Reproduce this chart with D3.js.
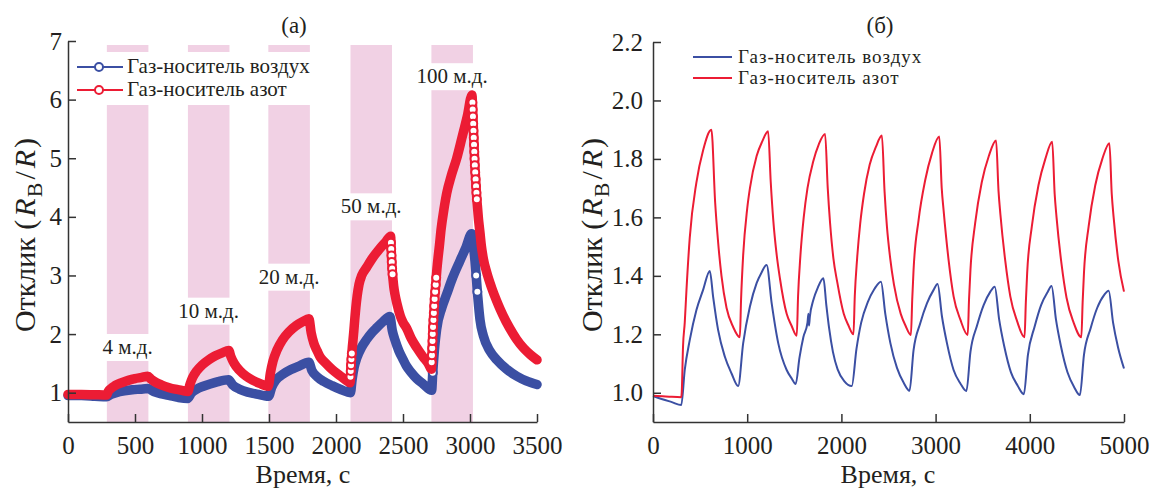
<!DOCTYPE html>
<html>

<head>
    <meta charset="utf-8">
    <style>
        body {
            margin: 0;
            background: #fff;
        }

        svg {
            font-family: 'Liberation Serif', 'DejaVu Serif', serif;
        }

        .axis .domain,
        .axis .tick line {
            stroke: #333;
            stroke-width: 1.5px;
        }

        .axis .tick text {
            font-family: 'Liberation Serif', serif;
            font-size: 25px;
            fill: #231f20;
        }
    </style>
</head>

<body>
    <svg width="1153" height="491"></svg>

    <script src="https://d3js.org/d3.v7.min.js"></script>
    <script>

        // panel (а): gas pulses, start / end in seconds
        let pulseLabels = ["4 м.д.", "10 м.д.", "20 м.д.", "50 м.д.", "100 м.д."];
        let pulseOn = [290, 895, 1495, 2108, 2712];
        let pulseOff = [600, 1205, 1805, 2418, 3022];

        let xTicksA = [0, 500, 1000, 1500, 2000, 2500, 3000, 3500];
        let yTicksA = [1, 2, 3, 4, 5, 6, 7];
        let xTicksB = [0, 1000, 2000, 3000, 4000, 5000];
        let yTicksB = [1.0, 1.2, 1.4, 1.6, 1.8, 2.0, 2.2];

        let seriesNames = ["Газ-носитель воздух", "Газ-носитель азот"];

        // [time, response]
        let airA = [[0, 0.95], [100, 0.95], [200, 0.94], [288, 0.93],
        [320, 0.97], [360, 1.00], [420, 1.03], [480, 1.05], [540, 1.06], [595, 1.07],
        [640, 1.02], [700, 0.98], [760, 0.95], [820, 0.92], [893, 0.90],
        [920, 0.99], [960, 1.06], [1010, 1.11], [1060, 1.15], [1120, 1.19], [1198, 1.22],
        [1230, 1.13], [1280, 1.06], [1340, 1.01], [1400, 0.98], [1460, 0.95], [1497, 0.94],
        [1520, 1.09], [1550, 1.21], [1600, 1.31], [1660, 1.39], [1720, 1.45], [1797, 1.52],
        [1820, 1.38], [1860, 1.27], [1910, 1.19], [1970, 1.12], [2040, 1.05], [2108, 1.00],
        [2120, 1.22], [2135, 1.43], [2155, 1.59], [2190, 1.77], [2229, 1.91], [2270, 2.03], [2304, 2.11], [2350, 2.21], [2402, 2.30],
        [2420, 2.06], [2440, 1.90], [2470, 1.71], [2500, 1.57], [2527, 1.45], [2560, 1.35], [2602, 1.24], [2650, 1.15], [2714, 1.04],
        [2722, 1.34], [2735, 1.74], [2751, 2.08], [2790, 2.45], [2826, 2.68], [2870, 2.96], [2925, 3.25], [2970, 3.48], [3012, 3.71],
        [3020, 3.62], [3028, 3.46], [3037, 3.25], [3046, 3.00], [3055, 2.72], [3065, 2.46], [3075, 2.24], [3100, 1.97],
        [3149, 1.71], [3200, 1.56], [3274, 1.40], [3350, 1.28], [3420, 1.20], [3500, 1.14]];

        let nitrogenA = [[0, 0.97], [100, 0.97], [200, 0.965], [288, 0.96],
        [300, 1.02], [320, 1.07], [350, 1.12], [400, 1.17], [450, 1.21], [500, 1.24], [550, 1.26], [595, 1.28],
        [620, 1.23], [660, 1.17], [700, 1.13], [750, 1.09], [800, 1.06], [850, 1.04], [895, 1.02],
        [910, 1.14], [930, 1.26], [960, 1.37], [1000, 1.47], [1050, 1.56], [1100, 1.63], [1150, 1.68], [1200, 1.72],
        [1215, 1.62], [1240, 1.50], [1280, 1.38], [1330, 1.28], [1380, 1.21], [1430, 1.16], [1495, 1.11],
        [1510, 1.33], [1530, 1.54], [1560, 1.73], [1600, 1.90], [1650, 2.04], [1700, 2.14], [1750, 2.21], [1798, 2.26],
        [1815, 2.02], [1835, 1.84], [1860, 1.71], [1881, 1.61], [1920, 1.51], [1955, 1.43], [1990, 1.36], [2030, 1.29], [2070, 1.22], [2105, 1.17],
        [2108, 1.27], [2110, 1.37], [2112, 1.47], [2115, 1.57], [2118, 1.67], [2122, 1.78], [2127, 1.90], [2133, 2.05],
        [2140, 2.25], [2148, 2.45], [2158, 2.65], [2172, 2.85], [2192, 3.00], [2229, 3.14], [2270, 3.29], [2320, 3.44], [2370, 3.57], [2408, 3.67],
        [2410, 3.56], [2412, 3.45], [2414, 3.34], [2416, 3.23], [2419, 3.12], [2422, 3.02], [2426, 2.92], [2431, 2.81],
        [2440, 2.68], [2455, 2.52], [2480, 2.31], [2500, 2.20], [2527, 2.10], [2560, 1.93], [2602, 1.77], [2650, 1.61], [2690, 1.49], [2712, 1.40],
        [2714, 1.52], [2716, 1.64], [2718, 1.76], [2720, 1.88], [2722, 2.00], [2724, 2.12], [2727, 2.24], [2730, 2.36], [2733, 2.48],
        [2736, 2.60], [2740, 2.72], [2744, 2.84], [2748, 2.96], [2752, 3.08], [2757, 3.20], [2763, 3.33], [2770, 3.47],
        [2785, 3.80], [2805, 4.12], [2826, 4.40], [2860, 4.70], [2900, 4.99], [2940, 5.35], [2980, 5.72], [3015, 6.08],
        [3018, 5.95], [3020, 5.83], [3022, 5.71], [3024, 5.59], [3026, 5.47], [3028, 5.35], [3030, 5.23], [3032, 5.11],
        [3034, 4.99], [3036, 4.88], [3039, 4.76], [3042, 4.64], [3045, 4.52], [3048, 4.41], [3051, 4.30], [3055, 4.19],
        [3059, 4.08], [3063, 3.97], [3068, 3.86], [3074, 3.74],
        [3085, 3.50], [3100, 3.28], [3124, 3.06], [3160, 2.80], [3200, 2.56], [3224, 2.43], [3270, 2.21], [3320, 2.01],
        [3348, 1.91], [3400, 1.76], [3450, 1.65], [3500, 1.56]];

        // panel (б): 50 ppm repeated pulses
        let airB = [[0, 0.989], [100, 0.978], [200, 0.968], [300, 0.958],
        [337, 1.078], [390, 1.18], [461, 1.283], [532, 1.352], [603, 1.417],
        [638, 1.329], [691, 1.215], [763, 1.123], [834, 1.066], [904, 1.023],
        [957, 1.169], [1029, 1.295], [1100, 1.375], [1150, 1.41], [1206, 1.437],
        [1260, 1.306], [1330, 1.169], [1419, 1.078], [1470, 1.05], [1515, 1.03],
        [1555, 1.12], [1596, 1.19], [1640, 1.24], [1650, 1.27], [1656, 1.23], [1665, 1.26], [1702, 1.317], [1750, 1.36], [1809, 1.392],
        [1840, 1.30], [1870, 1.22], [1910, 1.14], [1960, 1.08], [2030, 1.04], [2110, 1.023],
        [2160, 1.15], [2210, 1.24], [2280, 1.31], [2350, 1.355], [2420, 1.38],
        [2466, 1.27], [2520, 1.17], [2590, 1.085], [2660, 1.035], [2723, 1.007],
        [2766, 1.146], [2837, 1.238], [2908, 1.306], [2979, 1.352], [3021, 1.372],
        [3068, 1.26], [3121, 1.169], [3191, 1.078], [3263, 1.032], [3327, 1.006],
        [3370, 1.14], [3440, 1.23], [3510, 1.30], [3580, 1.345], [3628, 1.363],
        [3675, 1.25], [3728, 1.16], [3800, 1.07], [3870, 1.025], [3937, 0.995],
        [3980, 1.13], [4050, 1.225], [4120, 1.30], [4190, 1.345], [4231, 1.365],
        [4278, 1.25], [4330, 1.16], [4400, 1.07], [4470, 1.02], [4532, 0.992],
        [4575, 1.13], [4645, 1.22], [4715, 1.29], [4790, 1.335], [4837, 1.349],
        [4884, 1.24], [4937, 1.155], [5000, 1.083]];

        let nitrogenB = [[0, 0.99], [100, 0.988], [200, 0.986], [300, 0.985],
        [305, 1.0], [319, 1.16], [337, 1.24], [355, 1.35], [390, 1.53], [461, 1.72], [532, 1.83], [620, 1.90],
        [660, 1.65], [690, 1.52], [727, 1.40], [781, 1.29], [851, 1.225], [922, 1.19],
        [935, 1.32], [957, 1.47], [1000, 1.63], [1029, 1.70], [1100, 1.81], [1160, 1.86], [1222, 1.895],
        [1250, 1.72], [1277, 1.59], [1310, 1.48], [1348, 1.39], [1419, 1.27], [1470, 1.23], [1526, 1.195],
        [1540, 1.33], [1565, 1.47], [1600, 1.60], [1640, 1.70], [1700, 1.79], [1760, 1.85], [1827, 1.885],
        [1855, 1.70], [1880, 1.58], [1915, 1.46], [1955, 1.38], [2025, 1.27], [2075, 1.23], [2128, 1.20],
        [2142, 1.33], [2167, 1.46], [2200, 1.58], [2240, 1.68], [2300, 1.78], [2365, 1.84], [2430, 1.88],
        [2458, 1.69], [2483, 1.57], [2518, 1.46], [2558, 1.37], [2630, 1.27], [2680, 1.23], [2738, 1.198],
        [2752, 1.32], [2766, 1.42], [2819, 1.59], [2890, 1.728], [2962, 1.82], [3039, 1.877],
        [3065, 1.70], [3085, 1.624], [3138, 1.454], [3191, 1.33], [3263, 1.25], [3341, 1.198],
        [3355, 1.32], [3370, 1.42], [3420, 1.58], [3490, 1.72], [3565, 1.81], [3642, 1.863],
        [3668, 1.69], [3688, 1.61], [3740, 1.45], [3793, 1.33], [3865, 1.245], [3944, 1.19],
        [3958, 1.31], [3972, 1.41], [4022, 1.57], [4092, 1.71], [4165, 1.80], [4238, 1.859],
        [4264, 1.68], [4284, 1.60], [4337, 1.44], [4390, 1.325], [4465, 1.24], [4547, 1.19],
        [4561, 1.31], [4575, 1.41], [4625, 1.57], [4695, 1.71], [4770, 1.80], [4845, 1.854],
        [4870, 1.68], [4890, 1.60], [4940, 1.45], [5000, 1.346]];

        let blue = "#3b4fa3";
        let red = "#ec1c34";
        let pink = "#f1d1e4";

        let svg = d3.select("svg");

        let xA = d3.scaleLinear().domain([0, 3500]).range([68, 537]);
        let yA = d3.scaleLinear().domain([0.5, 7]).range([422, 41]);
        let xB = d3.scaleLinear().domain([0, 5000]).range([653, 1124]);
        let yB = d3.scaleLinear().domain([0.9, 2.2]).range([422, 42]);

        // ---------- panel (а) ----------
        let bandTop = yA.range()[1] + 4;
        svg.append("g")
            .selectAll("rect")
            .data(pulseOn)
            .join("rect")
            .attr("x", d => xA(d))
            .attr("y", bandTop)
            .attr("width", (d, i) => xA(pulseOff[i]) - xA(d))
            .attr("height", yA.range()[0] - bandTop)
            .style("fill", pink);

        // white holes in the bands behind legend and labels
        svg.append("rect")
            .attr("x", 72).attr("y", 52)
            .attr("width", 250).attr("height", 53)
            .style("fill", "#fff");

        let labelLevel = [1.66, 2.28, 2.86, 4.06, 6.28];
        let labels = svg.append("g");
        labels.selectAll("rect")
            .data(pulseOn)
            .join("rect")
            .attr("x", d => xA(d) - 1)
            .attr("y", (d, i) => yA(labelLevel[i]) - 20)
            .attr("width", (d, i) => xA(pulseOff[i]) - xA(d) + 2)
            .attr("height", 27)
            .style("fill", "#fff");
        labels.selectAll("text")
            .data(pulseLabels)
            .join("text")
            .attr("x", (d, i) => (xA(pulseOn[i]) + xA(pulseOff[i])) / 2)
            .attr("y", (d, i) => yA(labelLevel[i]))
            .attr("text-anchor", "middle")
            .style("font-size", "21px")
            .style("fill", "#231f20")
            .text(d => d);

        function drawMarked(pts, x, y, color) {
            let line = d3.line().curve(d3.curveMonotoneX).x(d => x(d[0])).y(d => y(d[1]));
            svg.append("path")
                .attr("d", line(pts))
                .style("fill", "none")
                .style("stroke", color)
                .style("stroke-width", 9.5)
                .style("stroke-linejoin", "round")
                .style("stroke-linecap", "round");

            // where the signal changes fast the single markers can be seen
            let fast = pts.filter((d, i) => {
                let p = pts[Math.max(i - 1, 0)];
                let n = pts[Math.min(i + 1, pts.length - 1)];
                return Math.abs(n[1] - p[1]) / (n[0] - p[0]) > 0.028;
            });
            svg.append("g")
                .selectAll("circle")
                .data(fast)
                .join("circle")
                .attr("cx", d => x(d[0]))
                .attr("cy", d => y(d[1]))
                .attr("r", 4)
                .style("fill", "#fff")
                .style("stroke", color)
                .style("stroke-width", 2);
        }

        drawMarked(airA, xA, yA, blue);
        drawMarked(nitrogenA, xA, yA, red);

        svg.append("g")
            .attr("class", "axis")
            .attr("transform", `translate(0,${yA.range()[0]})`)
            .call(d3.axisBottom(xA).tickValues(xTicksA).tickSizeInner(-8).tickSizeOuter(0).tickPadding(14).tickFormat(d3.format("d")));

        svg.append("g")
            .attr("class", "axis")
            .attr("transform", `translate(${xA.range()[0]},0)`)
            .call(d3.axisLeft(yA).tickValues(yTicksA).tickSizeInner(-8).tickSizeOuter(0).tickPadding(6).tickFormat(d3.format("d")));

        // legend (а)
        let legA = svg.append("g");
        [blue, red].forEach(function (c, i) {
            let ly = 67 + i * 23;
            legA.append("line")
                .attr("x1", 77).attr("x2", 123).attr("y1", ly).attr("y2", ly)
                .style("stroke", c).style("stroke-width", 2);
            legA.append("circle")
                .attr("cx", 99).attr("cy", ly).attr("r", 4)
                .style("fill", "#fff").style("stroke", c).style("stroke-width", 2);
            legA.append("text")
                .attr("x", 127).attr("y", ly + 6)
                .style("font-size", "21px").style("fill", "#231f20")
                .text(seriesNames[i]);
        });

        // ---------- panel (б) ----------
        let lineB = d3.line().curve(d3.curveMonotoneX).x(d => xB(d[0])).y(d => yB(d[1]));
        [[airB, blue], [nitrogenB, red]].forEach(function (s) {
            svg.append("path")
                .attr("d", lineB(s[0]))
                .style("fill", "none")
                .style("stroke", s[1])
                .style("stroke-width", 2)
                .style("stroke-linejoin", "round");
        });

        svg.append("g")
            .attr("class", "axis")
            .attr("transform", `translate(0,${yB.range()[0]})`)
            .call(d3.axisBottom(xB).tickValues(xTicksB).tickSizeInner(-8).tickSizeOuter(0).tickPadding(14).tickFormat(d3.format("d")));

        svg.append("g")
            .attr("class", "axis")
            .attr("transform", `translate(${xB.range()[0]},0)`)
            .call(d3.axisLeft(yB).tickValues(yTicksB).tickSizeInner(-8).tickSizeOuter(0).tickPadding(10).tickFormat(d3.format(".1f")));

        let legB = svg.append("g");
        [blue, red].forEach(function (c, i) {
            let ly = 57 + i * 21;
            legB.append("line")
                .attr("x1", 693).attr("x2", 732).attr("y1", ly).attr("y2", ly)
                .style("stroke", c).style("stroke-width", 2);
            legB.append("text")
                .attr("x", 738).attr("y", ly + 6)
                .style("font-size", "19px").style("letter-spacing", "1px").style("fill", "#231f20")
                .text(seriesNames[i]);
        });

        // ---------- titles ----------
        function yTitle(x, y) {
            let t = svg.append("text")
                .attr("transform", `translate(${x},${y}) rotate(-90)`)
                .attr("text-anchor", "middle")
                .style("font-size", "30px")
                .style("fill", "#231f20");
            t.append("tspan").text("Отклик ");
            t.append("tspan").style("letter-spacing", "3px").text("(");
            t.append("tspan").style("font-style", "italic").style("letter-spacing", "1px").text("R");
            t.append("tspan").attr("dy", 7).style("font-size", "22px").style("letter-spacing", "3px").text("В");
            t.append("tspan").attr("dy", -7).style("letter-spacing", "3px").text("/");
            t.append("tspan").style("font-style", "italic").style("letter-spacing", "2px").text("R");
            t.append("tspan").text(")");
        }
        yTitle(35, 235);
        yTitle(602, 235);

        [[303, "Время, с"], [888, "Время, с"], [294, "(а)"], [880, "(б)"]].forEach(function (d, i) {
            svg.append("text")
                .attr("x", d[0])
                .attr("y", i < 2 ? 483 : 33)
                .attr("text-anchor", "middle")
                .style("font-size", i < 2 ? "26px" : "23px")
                .style("fill", "#231f20")
                .text(d[1]);
        });

    </script>
</body>

</html>
